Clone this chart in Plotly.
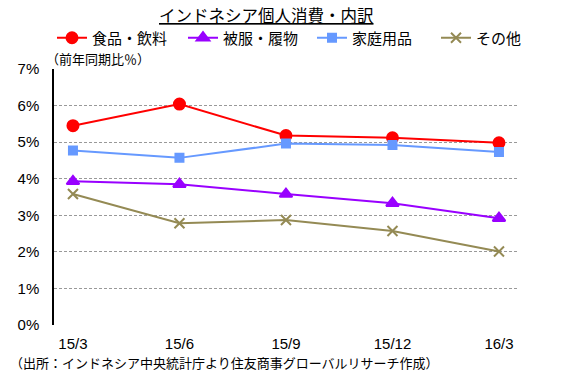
import plotly.graph_objects as go

categories = ["15/3", "15/6", "15/9", "15/12", "16/3"]
food = [5.45, 6.04, 5.18, 5.12, 4.98]
clothing = [3.93, 3.85, 3.58, 3.33, 2.92]
household = [4.77, 4.57, 4.96, 4.92, 4.73]
other = [3.58, 2.78, 2.87, 2.57, 2.01]
y_ticks = [0, 1, 2, 3, 4, 5, 6, 7]
y_ticklabels = [f"{v}%" for v in y_ticks]

title_text = "インドネシア個人消費・内訳"
unit_text = "（前年同期比％）"
source_text = "（出所：インドネシア中央統計庁より住友商事グローバルリサーチ作成）"

FONT = "Liberation Sans, Arial, Noto Sans CJK JP"
xpos = list(range(len(categories)))

series = [
    ("食品・飲料", food, "#FF0000", "circle", 11),
    ("被服・履物", clothing, "#9900FF", "triangle-up", 11),
    ("家庭用品", household, "#6699FF", "square", 8),
    ("その他", other, "#948A54", "x-thin-open", 10),
]
legend_left_px = [52, 183, 312, 436]

fig = go.Figure()
legend_names = ["legend", "legend2", "legend3", "legend4"]
for (name, vals, col, sym, sz), lg in zip(series, legend_names):
    fig.add_trace(go.Scatter(
        x=xpos, y=vals, name=name, mode="lines+markers",
        line=dict(color=col, width=2),
        marker=dict(symbol=sym, size=sz, color=col,
                    line=dict(color=col, width=2)),
        xaxis="x2", legend=lg,
    ))

# plot area in pixels
L, R, T, B = 54, 519, 69, 325
W, H = R - L, B - T


def px(x):
    return (x - L) / W


def py(y):
    return (B - y) / H


legends = {}
for lg, lx in zip(legend_names, legend_left_px):
    legends[lg] = dict(orientation="h", xref="container", yref="container",
                       x=lx / 567, y=1 - 38 / 377, xanchor="left", yanchor="middle",
                       font=dict(size=15, family="Noto Sans CJK JP"),
                       itemwidth=30, bgcolor="rgba(0,0,0,0)")

xr = [-0.178, 4.188]
fig.update_layout(
    width=567, height=377,
    margin=dict(l=L, r=567 - R, t=T, b=377 - B, autoexpand=False),
    plot_bgcolor="white", paper_bgcolor="white",
    font=dict(family=FONT, size=15, color="black"),
    showlegend=True,
    hovermode=False,
    **legends,
    xaxis=dict(range=xr, tickvals=[0.84, 1.85, 2.85, 3.86], ticktext=["", "", "", ""],
               showgrid=True, gridcolor="#999999", griddash="3px,2px", gridwidth=1,
               showline=True, linecolor="black", linewidth=1.5,
               ticks="inside", ticklen=5, tickcolor="black", zeroline=False),
    xaxis2=dict(range=xr, overlaying="x", anchor="y", side="bottom",
                tickvals=xpos, ticktext=categories, showgrid=False,
                showline=False, zeroline=False, ticks="",
                tickfont=dict(size=15), ticklabelstandoff=8),
    yaxis=dict(range=[0, 7], tickvals=y_ticks, ticktext=y_ticklabels,
               showgrid=True, gridcolor="#999999", griddash="3px,2px", gridwidth=1,
               showline=True, linecolor="black", linewidth=1.5,
               ticks="", zeroline=False, tickfont=dict(size=15),
               ticklabelstandoff=10),
    annotations=[
        dict(text=f"<u>{title_text}</u>", xref="paper", yref="paper",
             x=px(266), y=py(15), xanchor="center", yanchor="middle",
             showarrow=False, font=dict(size=16.5, family="Noto Sans CJK JP")),
        dict(text=unit_text, xref="paper", yref="paper",
             x=px(44), y=py(58), xanchor="left", yanchor="middle",
             showarrow=False, font=dict(size=13, family="Noto Sans CJK JP")),
        dict(text=source_text, xref="paper", yref="paper",
             x=px(8), y=py(362), xanchor="left", yanchor="middle",
             showarrow=False, font=dict(size=13, family="Noto Sans CJK JP")),
    ],
)

fig.write_html("out.html", config={"displayModeBar": False},
               post_script="document.body.style.margin='0px';")
